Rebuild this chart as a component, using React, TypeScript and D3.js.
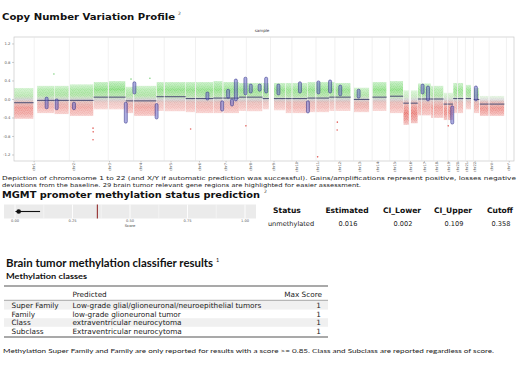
import * as d3 from "d3";

const chromNames = ["1", "2", "3", "4", "5", "6", "7", "8", "9", "10", "11", "12", "13", "14", "15", "16", "17", "18", "19", "20", "21", "22", "X", "Y"];
const chromLengths = [249.25, 243.2, 198.02, 191.15, 180.92, 171.12, 159.14, 146.36, 141.21, 135.53, 135.01, 133.85, 115.17, 107.35, 102.53, 90.35, 81.2, 78.08, 59.13, 63.03, 48.13, 51.3, 155.27, 59.37];
const centromeres = [125, 93.3, 91, 50.4, 48.4, 61, 59.9, 45.6, 49, 40.2, 53.7, 35.8, 17.9, 17.6, 19, 36.6, 24, 17.2, 26.5, 27.5, 13.2, 14.7, 60.6, 12.5];
const yTicks = [-1.2, -0.8, -0.4, 0, 0.4, 0.8, 1.2];

// chrom, start Mb, end Mb, segment mean, upper edge of cloud, lower edge of cloud
const cnvSegments: [string, number, number, number, number, number][] = [
  ["1", 0.8, 121, -0.07, 0.25, -0.42],
  ["1", 143, 249, -0.02, 0.3, -0.3],
  ["2", 0.5, 90, -0.02, 0.3, -0.32],
  ["2", 96, 243, -0.02, 0.33, -0.36],
  ["3", 0.5, 89, 0.05, 0.38, -0.22],
  ["3", 94, 198, 0.05, 0.4, -0.22],
  ["4", 0.5, 48, -0.03, 0.28, -0.3],
  ["4", 53, 191, -0.03, 0.3, -0.36],
  ["5", 0.5, 46, 0.06, 0.38, -0.25],
  ["5", 51, 181, 0.06, 0.38, -0.26],
  ["6", 0.5, 58.5, 0.02, 0.38, -0.28],
  ["6", 63, 171, 0.02, 0.38, -0.3],
  ["7", 0.5, 58, 0.03, 0.4, -0.3],
  ["7", 62, 159, 0.03, 0.38, -0.3],
  ["8", 0.5, 43.5, 0.05, 0.36, -0.25],
  ["8", 47.5, 146, 0.05, 0.36, -0.26],
  ["9", 0.5, 39, 0.02, 0.36, -0.22],
  ["9", 70, 141, 0.02, 0.36, -0.24],
  ["10", 0.5, 39, 0.02, 0.36, -0.3],
  ["10", 42.5, 135, 0.02, 0.36, -0.3],
  ["11", 0.5, 51, 0.03, 0.38, -0.28],
  ["11", 55, 135, 0.03, 0.38, -0.28],
  ["12", 0.5, 34, 0.05, 0.38, -0.25],
  ["12", 38, 133.5, 0.05, 0.36, -0.25],
  ["13", 19.5, 115, 0.0, 0.26, -0.28],
  ["14", 19.5, 107, 0.05, 0.38, -0.25],
  ["15", 20.5, 102, 0.07, 0.4, -0.3],
  ["16", 0.5, 35, -0.08, 0.2, -0.55],
  ["16", 46.5, 90, -0.08, 0.2, -0.52],
  ["17", 0.5, 22.5, 0.01, 0.35, -0.35],
  ["17", 25.5, 81, 0.01, 0.35, -0.35],
  ["18", 0.5, 15.5, 0.01, 0.3, -0.4],
  ["18", 18.5, 78, 0.01, 0.3, -0.4],
  ["19", 0.5, 24.5, -0.1, 0.15, -0.45],
  ["19", 28, 59, -0.1, 0.15, -0.45],
  ["20", 0.5, 26, 0.02, 0.36, -0.3],
  ["20", 29.5, 63, 0.02, 0.36, -0.3],
  ["21", 15, 48, 0.02, 0.32, -0.22],
  ["22", 17, 51, 0.0, 0.25, -0.3],
  ["X", 2.7, 58, -0.1, 0.08, -0.36],
  ["X", 62, 155, -0.1, 0.08, -0.36]
];

// highlighted gene regions: chrom, position Mb, highest value, lowest value
const geneRegions: [string, number, number, number][] = [
  ["1", 202, 0.03, -0.18],
  ["2", 15, -0.01, -0.2],
  ["2", 122, -0.08, -0.2],
  ["4", 1.8, -0.08, -0.49],
  ["4", 55, 0.36, 0.14],
  ["5", 1.3, -0.11, -0.4],
  ["6", 135, 0.14, 0.01],
  ["7", 55, -0.05, -0.23],
  ["7", 92, 0.2, 0.05],
  ["7", 116, -0.01, -0.12],
  ["7", 140, 0.42, -0.01],
  ["8", 40, 0.46, 0.12],
  ["8", 73, 0.31, 0.16],
  ["8", 128, 0.31, 0.2],
  ["9", 22, 0.46, 0.16],
  ["9", 98, 0.31, 0.12],
  ["10", 90, 0.36, 0.16],
  ["11", 4, -0.05, -0.27],
  ["11", 69, 0.38, 0.14],
  ["12", 6, 0.4, 0.16],
  ["12", 69, 0.29, 0.1],
  ["13", 49, 0.2, 0.05],
  ["17", 29.5, 0.31, 0.14],
  ["17", 63, 0.27, -0.01],
  ["19", 54, -0.16, -0.51],
  ["22", 30, 0.27, -0.01]
];

// isolated bins outside the main cloud: chrom, position Mb, value
const outlierBins: [string, number, number][] = [
  ["1", 247, 0.55],
  ["2", 240, -0.62],
  ["2", 241, -0.7],
  ["2", 240, -0.87],
  ["4", 34, 0.44],
  ["4", 151, 0.46],
  ["6", 31, -0.64],
  ["8", 43, -0.57],
  ["11", 64, -1.24],
  ["12", 50, -0.66],
  ["12", 51, -0.49],
  ["19", 29, -0.57]
];

const mgmtHeaders = ["Status", "Estimated", "CI_Lower", "CI_Upper", "Cutoff"];
const mgmtValues = ["unmethylated", "0.016", "0.002", "0.109", "0.358"];
const mgmtEstimate = 0.016;
const mgmtLower = 0.002;
const mgmtUpper = 0.109;
const mgmtCutoff = 0.358;
const mgmtTicks = [0, 0.25, 0.5, 0.75, 1];

const classLevels = ["Super Family", "Family", "Class", "Subclass"];
const classPredicted = [
  "Low-grade glial/glioneuronal/neuroepithelial tumors",
  "low-grade glioneuronal tumor",
  "extraventricular neurocytoma",
  "Extraventricular neurocytoma"
];
const classScores = [1, 1, 1, 1];

const W = 520;
const H = 368;
const plot = { left: 14, right: 514, top: 37, bottom: 161 };
const mgmtCols = [287, 347, 402, 453, 500];
const dejavu = "'DejaVu Sans', Verdana, sans-serif";
const lato = "Lato, 'Open Sans', sans-serif";

const cloudStops: [number, string][] = [
  [0.45, "#45c845"],
  [0.22, "#7fda74"],
  [0.07, "#b0e0a6"],
  [0.0, "#c8c8c8"],
  [-0.07, "#e2aeaa"],
  [-0.2, "#ec8a84"],
  [-0.38, "#e25a54"],
  [-0.6, "#d43530"]
];

// fixed texture giving the point cloud its speckled look
const speckDots = [
  [0.6, 0.7], [2.4, 0.3], [4.2, 1.1], [1.5, 2.1], [3.3, 2.6], [5.2, 2.9],
  [0.4, 3.8], [2.2, 4.3], [4.4, 4.6], [1.2, 5.5], [3.4, 5.3], [5.5, 5.6]
];

export default function App() {
  const offsets = d3.cumsum([0, ...chromLengths]);
  const total = offsets[offsets.length - 1];
  const offsetOf = new Map(chromNames.map((c, i) => [c, offsets[i]]));
  const gx = d3.scaleLinear().domain([0, total]).range([plot.left, plot.right]);
  const gy = d3.scaleLinear().domain([-1.33, 1.35]).range([plot.bottom, plot.top]);
  const px = (chr: string, mb: number) => gx((offsetOf.get(chr) ?? 0) + mb);

  const gTop = gy(0.45);
  const gBot = gy(-0.6);

  const mx = d3.scaleLinear().domain([0, 1]).range([15, 245]);
  const minor = d3.range(0.125, 1, 0.25);

  const rowY = d3.scaleBand().domain(classLevels).range([301, 335.4]);

  return (
    <svg width={W} height={H} style={{ position: "absolute", left: 0, top: 0, background: "#fff" }}>
      <defs>
        <linearGradient id="cloud" gradientUnits="userSpaceOnUse" x1="0" x2="0" y1={gTop} y2={gBot}>
          {cloudStops.map(([v, c]) => (
            <stop key={v} offset={(gy(v) - gTop) / (gBot - gTop)} stopColor={c} />
          ))}
        </linearGradient>
        <linearGradient id="fadeG" x1="0" x2="0" y1="0" y2="1">
          <stop offset="0" stopColor="#555" />
          <stop offset="0.3" stopColor="#fff" />
          <stop offset="0.65" stopColor="#fff" />
          <stop offset="1" stopColor="#555" />
        </linearGradient>
        <mask id="fade" maskContentUnits="objectBoundingBox">
          <rect width="1" height="1" fill="url(#fadeG)" />
        </mask>
        <pattern id="speck" patternUnits="userSpaceOnUse" width="6" height="6">
          <rect width="6" height="6" fill="#b4b4b4" />
          {speckDots.map(([x, y], i) => (
            <circle key={i} cx={x} cy={y} r={0.6} fill="#fff" />
          ))}
        </pattern>
        <mask id="dots" maskUnits="userSpaceOnUse" x="0" y="0" width={W} height={H}>
          <rect width={W} height={H} fill="url(#speck)" />
        </mask>
      </defs>

      {/* Copy number section */}
      <text x={2} y={20} fontFamily={dejavu} fontWeight="bold" fontSize={8} textLength={173} lengthAdjust="spacingAndGlyphs" fill="#111">
        Copy Number Variation Profile
      </text>
      <text x={178} y={15} fontFamily={dejavu} fontSize={4.5} fill="#333">2</text>

      <text x={262} y={32} textAnchor="middle" fontFamily={dejavu} fontSize={4} fill="#333">sample</text>

      <rect x={plot.left} y={plot.top} width={plot.right - plot.left} height={plot.bottom - plot.top} fill="#fff" stroke="#c8c8c8" strokeWidth={0.7} />

      {centromeres.map((c, i) => (
        <line key={"c" + i} x1={px(chromNames[i], c)} x2={px(chromNames[i], c)} y1={plot.top} y2={plot.bottom} stroke="#e2e2e2" strokeWidth={0.5} />
      ))}
      {offsets.slice(1, -1).map((o, i) => (
        <line key={"b" + i} x1={gx(o)} x2={gx(o)} y1={plot.top} y2={plot.bottom} stroke="#c4c4c4" strokeWidth={0.5} />
      ))}

      {yTicks.map((t) => (
        <g key={t}>
          <line x1={plot.left - 2} x2={plot.left} y1={gy(t)} y2={gy(t)} stroke="#888" strokeWidth={0.4} />
          <text x={plot.left - 3.5} y={gy(t) + 1.3} textAnchor="end" fontFamily={dejavu} fontSize={3.8} fill="#555">
            {t.toFixed(1)}
          </text>
        </g>
      ))}

      {chromNames.map((c, i) => {
        const cx = gx(offsets[i] + chromLengths[i] / 2);
        return (
          <g key={c}>
            <line x1={cx} x2={cx} y1={plot.bottom} y2={plot.bottom + 1.5} stroke="#888" strokeWidth={0.4} />
            <text transform={`translate(${cx + 1.2},${plot.bottom + 6}) rotate(-90)`} textAnchor="middle" fontFamily={dejavu} fontSize={3.6} fill="#555">
              {"chr" + c}
            </text>
          </g>
        );
      })}

      {cnvSegments.map(([c, s, e, , hi, lo], i) => (
        <g key={"cl" + i} mask="url(#fade)">
          <rect x={px(c, s)} y={gy(hi)} width={px(c, e) - px(c, s)} height={gy(lo) - gy(hi)} fill="url(#cloud)" mask="url(#dots)" />
        </g>
      ))}

      {outlierBins.map(([c, p, v], i) => (
        <circle key={"o" + i} cx={px(c, p)} cy={gy(v)} r={0.8} fill={v > 0 ? "#7fd27f" : "#e2625d"} />
      ))}

      {cnvSegments.map(([c, s, e, m], i) => (
        <line key={"s" + i} x1={px(c, s)} x2={px(c, e)} y1={gy(m)} y2={gy(m)} stroke="#56587a" strokeWidth={1.1} />
      ))}

      {geneRegions.map(([c, p, hi, lo], i) => (
        <rect key={"g" + i} x={px(c, p) - 1.5} y={gy(hi) - 1} width={3} height={gy(lo) - gy(hi) + 2} rx={1.4} fill="#6a6ac8" fillOpacity={0.55} stroke="#2a2a80" strokeWidth={0.5} />
      ))}

      <text x={2} y={180} fontFamily={dejavu} fontSize={5.4} textLength={514} lengthAdjust="spacingAndGlyphs" fill="#222">
        Depiction of chromosome 1 to 22 (and X/Y if automatic prediction was successful). Gains/amplifications represent positive, losses negative
      </text>
      <text x={2} y={187} fontFamily={dejavu} fontSize={5.4} textLength={359} lengthAdjust="spacingAndGlyphs" fill="#222">
        deviations from the baseline. 29 brain tumor relevant gene regions are highlighted for easier assessment.
      </text>

      {/* MGMT section */}
      <text x={2} y={198} fontFamily={dejavu} fontWeight="bold" fontSize={8.2} textLength={258} lengthAdjust="spacingAndGlyphs" fill="#111">
        MGMT promoter methylation status prediction
      </text>
      <text x={264} y={193} fontFamily={dejavu} fontSize={4.5} fill="#333">2</text>

      <rect x={4} y={204.5} width={252} height={14} fill="#ebebeb" />
      {minor.map((t) => (
        <line key={t} x1={mx(t)} x2={mx(t)} y1={204.5} y2={218.5} stroke="#fff" strokeWidth={0.4} />
      ))}
      {mgmtTicks.map((t) => (
        <g key={t}>
          <line x1={mx(t)} x2={mx(t)} y1={204.5} y2={218.5} stroke="#fff" strokeWidth={0.9} />
          <text x={mx(t)} y={222.3} textAnchor="middle" fontFamily={dejavu} fontSize={3.6} fill="#555">
            {t.toFixed(2)}
          </text>
        </g>
      ))}
      <text x={mx(0.5)} y={226.8} textAnchor="middle" fontFamily={dejavu} fontSize={3.8} fill="#333">Score</text>
      <line x1={mx(mgmtCutoff)} x2={mx(mgmtCutoff)} y1={204.5} y2={218.5} stroke="#8b1a1a" strokeWidth={1} />
      <line x1={mx(mgmtLower)} x2={mx(mgmtUpper)} y1={211.5} y2={211.5} stroke="#111" strokeWidth={1.1} />
      <circle cx={mx(mgmtEstimate)} cy={211.5} r={2.3} fill="#111" />

      {mgmtHeaders.map((h, i) => (
        <text key={h} x={mgmtCols[i]} y={213} textAnchor="middle" fontFamily={dejavu} fontWeight="bold" fontSize={7.6} fill="#111">
          {h}
        </text>
      ))}
      {mgmtValues.map((v, i) => (
        <text key={i} x={mgmtCols[i] + (i === 0 ? 4 : 1)} y={225.5} textAnchor="middle" fontFamily={dejavu} fontSize={6.6} fill="#222">
          {v}
        </text>
      ))}

      {/* Classifier section */}
      <text x={6} y={267} fontFamily={lato} fontWeight="bold" fontSize={10.5} textLength={207} lengthAdjust="spacingAndGlyphs" fill="#111">
        Brain tumor methylation classifier results
      </text>
      <text x={216} y={262} fontFamily={lato} fontSize={5.5} fill="#111">1</text>
      <text x={6} y={279} fontFamily={lato} fontWeight="bold" fontSize={8} textLength={81} lengthAdjust="spacingAndGlyphs" fill="#111">
        Methylation classes
      </text>

      {classLevels.map((lvl, i) =>
        i % 2 === 0 ? (
          <rect key={"bg" + lvl} x={4} y={rowY(lvl)} width={324} height={rowY.bandwidth()} fill="#f0f0f0" />
        ) : null
      )}
      <line x1={4} x2={328} y1={286} y2={286} stroke="#555" strokeWidth={1.2} />
      <text x={72.5} y={296.5} fontFamily={dejavu} fontSize={7.3} fill="#222">Predicted</text>
      <text x={322} y={296.5} textAnchor="end" fontFamily={dejavu} fontSize={7.3} fill="#222">Max Score</text>
      <line x1={4} x2={328} y1={300.3} y2={300.3} stroke="#666" strokeWidth={0.6} />
      {classLevels.map((lvl, i) => {
        const y = (rowY(lvl) ?? 0) + rowY.bandwidth() / 2 + 2.6;
        return (
          <g key={lvl}>
            <text x={11.5} y={y} fontFamily={dejavu} fontSize={7.3} fill="#222">{lvl}</text>
            <text x={72.5} y={y} fontFamily={dejavu} fontSize={7.3} fill="#222">{classPredicted[i]}</text>
            <text x={321} y={y} textAnchor="end" fontFamily={dejavu} fontSize={7.3} fill="#222">{classScores[i]}</text>
          </g>
        );
      })}
      <line x1={4} x2={328} y1={337} y2={337} stroke="#555" strokeWidth={1.2} />

      <text x={3} y={353} fontFamily={lato} fontSize={6} textLength={491} lengthAdjust="spacingAndGlyphs" fill="#222">
        Methylation Super Family and Family are only reported for results with a score &gt;= 0.85. Class and Subclass are reported regardless of score.
      </text>
    </svg>
  );
}
